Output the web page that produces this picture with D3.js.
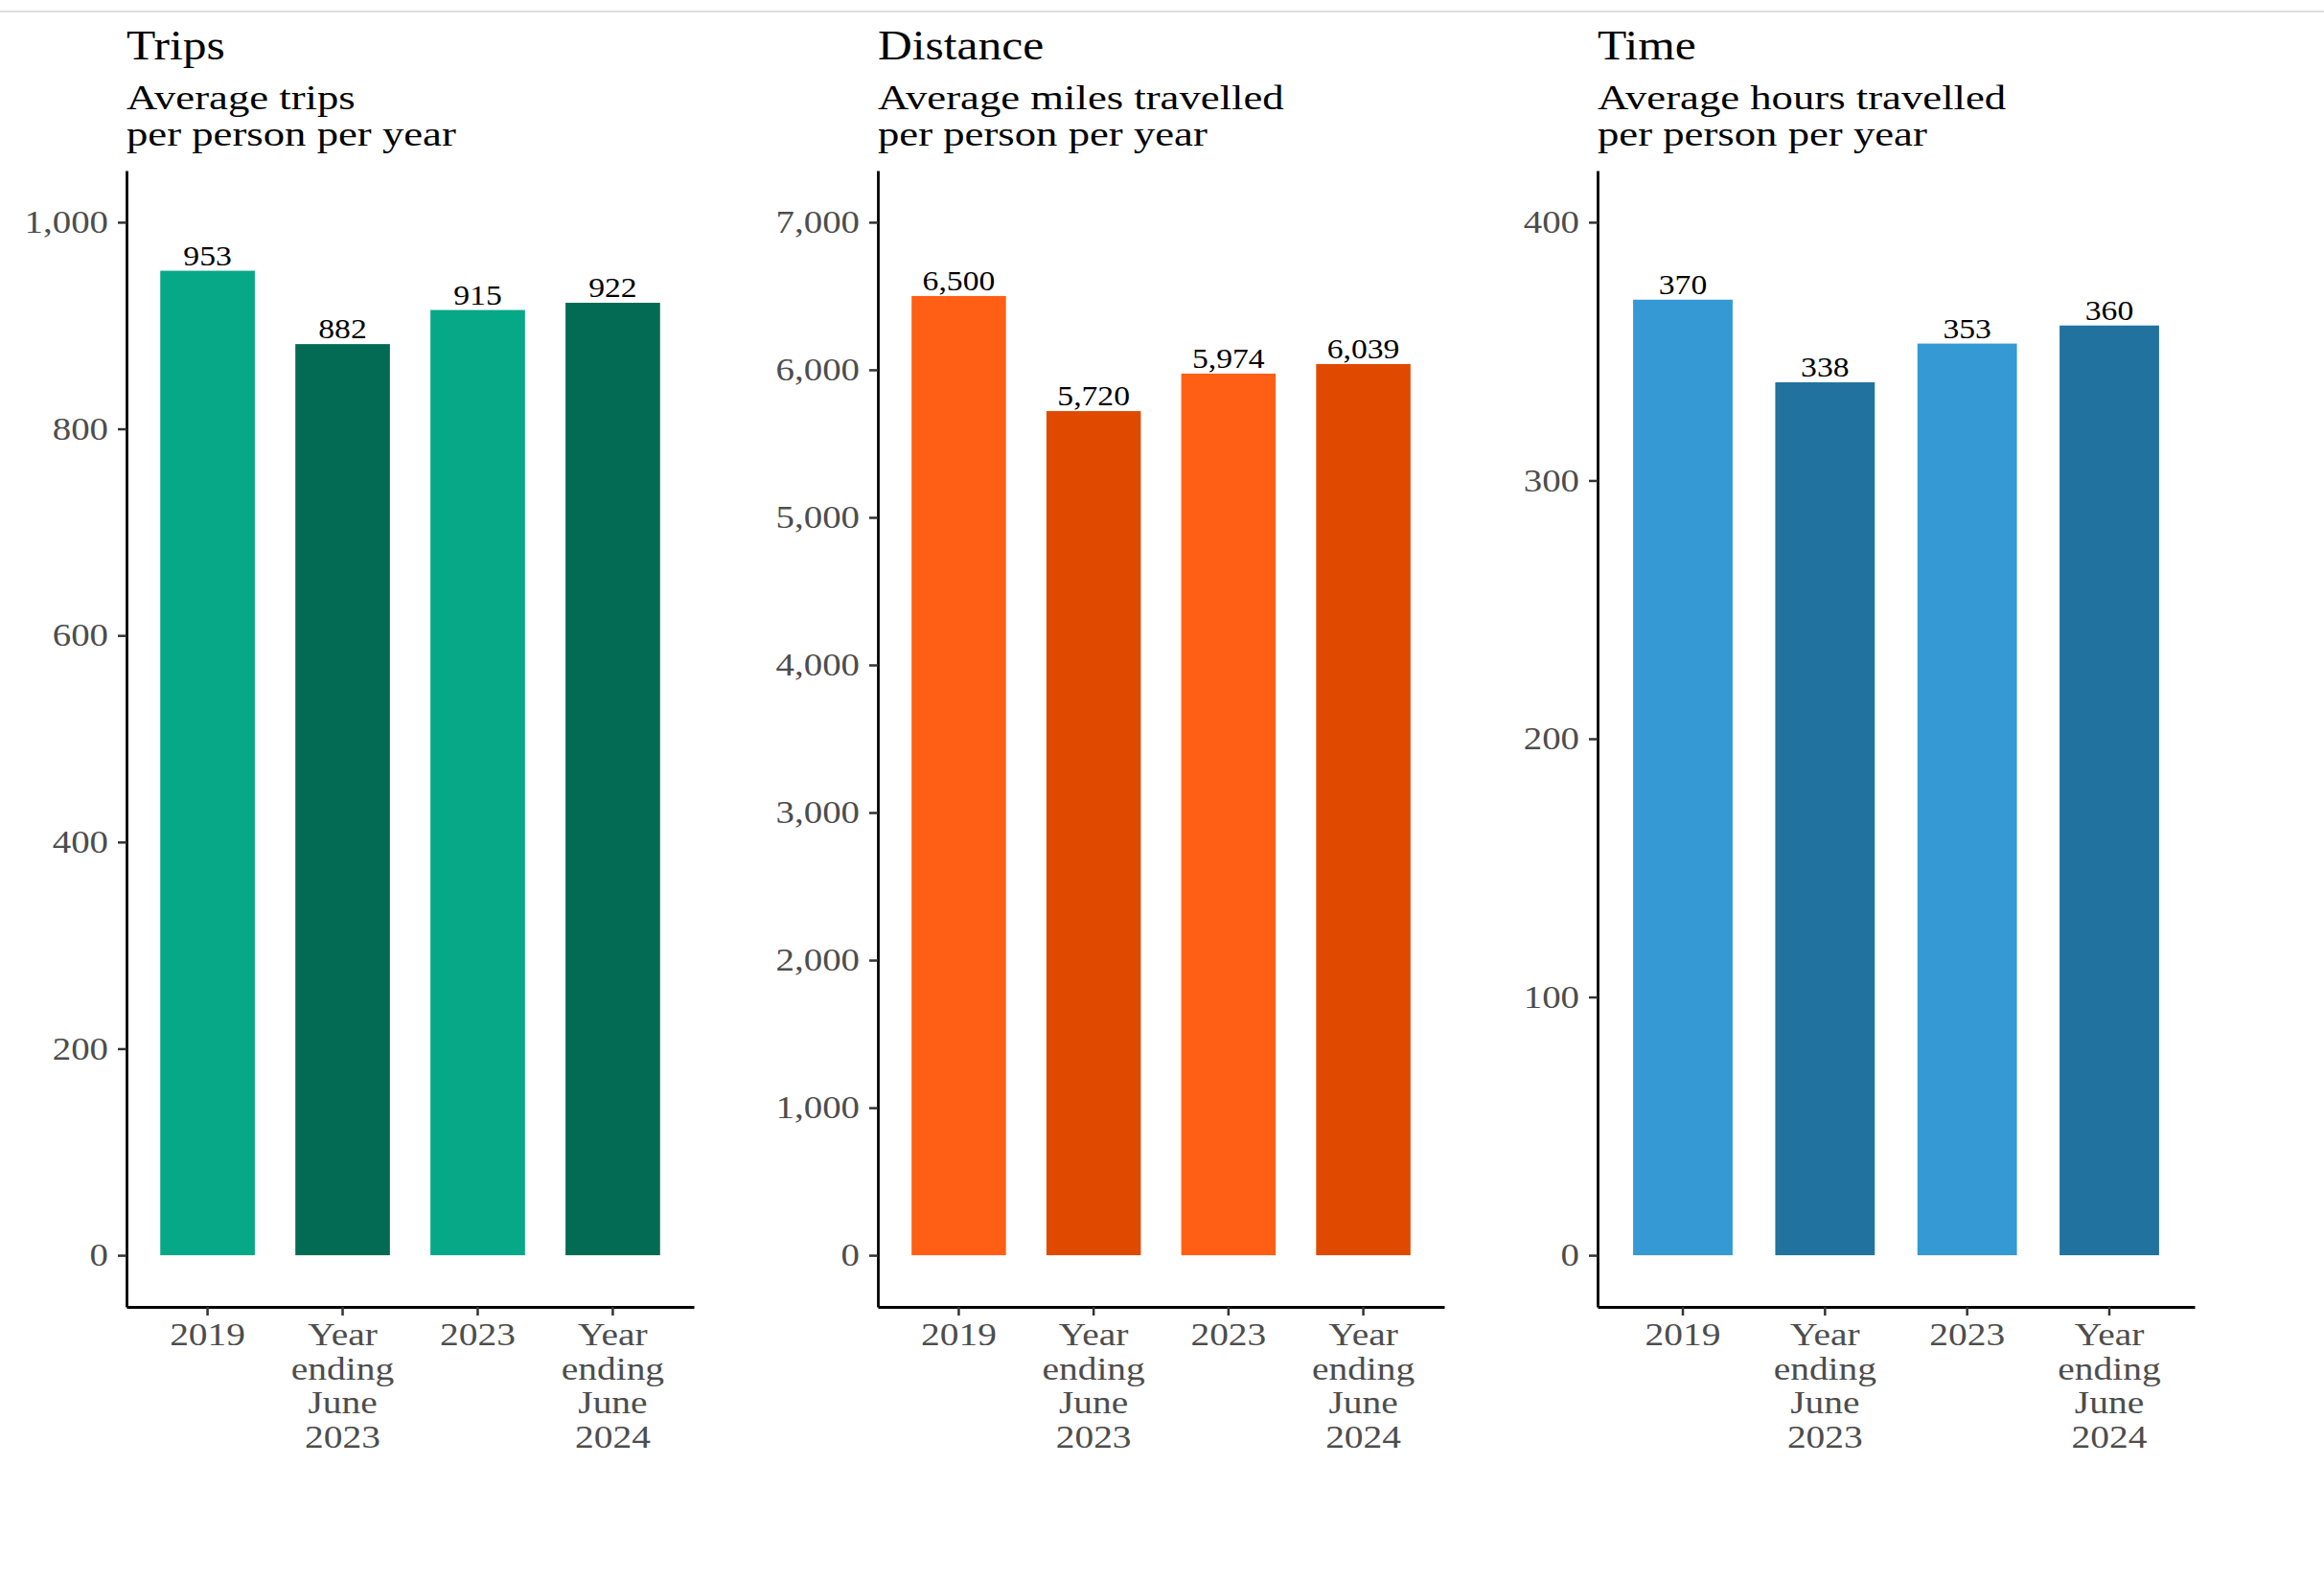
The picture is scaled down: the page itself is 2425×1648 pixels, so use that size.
<!DOCTYPE html>
<html><head><meta charset="utf-8">
<script src="https://cdn.jsdelivr.net/npm/d3@7"></script>
<style>body{margin:0;background:#fff} svg{display:block}</style>
</head><body>
<script>
// ---- data ----
const categories = ["2019", "Year ending June 2023", "2023", "Year ending June 2024"];
const categoryLines = [["2019"], ["Year", "ending", "June", "2023"], ["2023"], ["Year", "ending", "June", "2024"]];
const tripsValues = [953, 882, 915, 922];
const distanceValues = [6500, 5720, 5974, 6039];
const timeValues = [370, 338, 353, 360];
const tripsTicks = [0, 200, 400, 600, 800, 1000];
const distanceTicks = [0, 1000, 2000, 3000, 4000, 5000, 6000, 7000];
const timeTicks = [0, 100, 200, 300, 400];
const titles = ["Trips", "Distance", "Time"];
const subtitles = [["Average trips", "per person per year"], ["Average miles travelled", "per person per year"], ["Average hours travelled", "per person per year"]];
const tripsColors = ["#06a887", "#036b53"];
const distanceColors = ["#ff5f14", "#e04a00"];
const timeColors = ["#3599d3", "#21729f"];

// ---- layout ----
const W = 2425, H = 1648;
const FONT = "'Liberation Serif','Times New Roman',serif";
const SX = 1.16; // horizontal stretch of the reference text
const panels = [
  {x0: 132, x1: 724, domain: [-50, 1050], values: tripsValues, ticks: tripsTicks, colors: tripsColors},
  {x0: 916, x1: 1507, domain: [-350, 7350], values: distanceValues, ticks: distanceTicks, colors: distanceColors},
  {x0: 1667, x1: 2290, domain: [-20, 420], values: timeValues, ticks: timeTicks, colors: timeColors}
];
const yTop = 178, yBot = 1364;
const fmt = d3.format(",");

const svg = d3.select("body").append("svg").attr("width", W).attr("height", H)
  .style("font-family", FONT);

svg.append("line").attr("x1", 0).attr("x2", W).attr("y1", 12).attr("y2", 12)
  .attr("stroke", "#dedede").attr("stroke-width", 2);

panels.forEach((p, i) => {
  const g = svg.append("g");
  const x = d3.scaleBand().domain(categories).range([p.x0, p.x1]).paddingInner(0.3).paddingOuter(0.25);
  const y = d3.scaleLinear().domain(p.domain).range([yBot, yTop]);

  // title + subtitle
  g.append("text").attr("transform", `translate(${p.x0},62) scale(1.1,1)`)
    .attr("font-size", 45).attr("fill", "#000").text(titles[i]);
  subtitles[i].forEach((s, j) => {
    g.append("text").attr("transform", `translate(${p.x0},${114 + j * 38}) scale(1.26,1)`)
      .attr("font-size", 35.5).attr("fill", "#000").text(s);
  });

  // bars
  g.selectAll("rect.bar").data(p.values).join("rect").attr("class", "bar")
    .attr("x", (d, k) => x(categories[k]))
    .attr("width", x.bandwidth())
    .attr("y", d => y(d))
    .attr("height", d => y(0) - y(d))
    .attr("fill", (d, k) => p.colors[k % 2]);

  // value labels
  g.selectAll("text.val").data(p.values).join("text").attr("class", "val")
    .attr("transform", (d, k) => `translate(${x(categories[k]) + x.bandwidth() / 2},${y(d) - 6}) scale(${SX},1)`)
    .attr("text-anchor", "middle").attr("font-size", 29).attr("fill", "#000")
    .text(d => fmt(d));

  // y axis
  const ya = g.append("g").attr("transform", `translate(${p.x0},0)`)
    .call(d3.axisLeft(y).tickValues(p.ticks).tickFormat(fmt).tickSize(9).tickSizeOuter(0).tickPadding(10));
  ya.select(".domain").attr("stroke", "#000").attr("stroke-width", 2.8);
  ya.selectAll(".tick line").attr("stroke", "#333").attr("stroke-width", 2.5);
  ya.selectAll(".tick text").attr("font-family", FONT).attr("font-size", 33.5).attr("fill", "#4d4d4d")
    .attr("x", -19 / SX).attr("transform", `scale(${SX},1)`);

  // x axis
  const xa = g.append("g").attr("transform", `translate(0,${yBot})`)
    .call(d3.axisBottom(x).tickSize(9).tickSizeOuter(0).tickFormat(""));
  xa.select(".domain").attr("stroke", "#000").attr("stroke-width", 2.8);
  xa.selectAll(".tick line").attr("stroke", "#333").attr("stroke-width", 2.5);
  xa.selectAll(".tick text").remove();
  categories.forEach((c, k) => {
    const t = g.append("text")
      .attr("transform", `translate(${x(c) + x.bandwidth() / 2},0) scale(${SX},1)`)
      .attr("text-anchor", "middle").attr("font-size", 34).attr("fill", "#4d4d4d");
    categoryLines[k].forEach((ln, j) => {
      t.append("tspan").attr("x", 0).attr("y", 1404 + j * 35.7).text(ln);
    });
  });
});
</script>
</body></html>
